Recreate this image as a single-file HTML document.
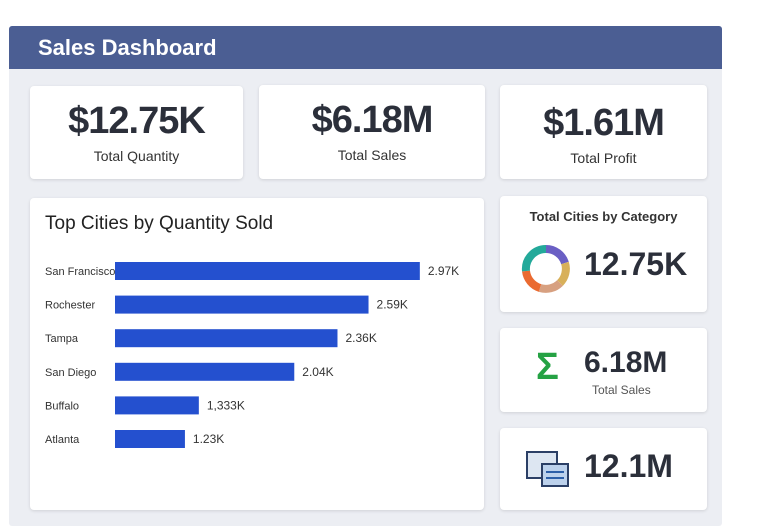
<!DOCTYPE html>
<html><head><meta charset="utf-8">
<style>
*{box-sizing:border-box;margin:0;padding:0}
body{width:757px;height:530px;background:#fff;font-family:"Liberation Sans",sans-serif;position:relative;overflow:hidden;color:#262b36}
.abs{position:absolute}
.card{position:absolute;background:#fff;border-radius:4px;box-shadow:0 1px 3px rgba(0,0,0,0.12)}
.big{position:absolute;left:0;right:0;text-align:center;font-weight:bold;color:#2b2f3a;letter-spacing:-1px}
.sub{position:absolute;left:0;right:0;text-align:center;font-size:14px;color:#333}
</style></head><body>
<div class="abs" style="left:9px;top:26px;width:713px;height:500px;background:#eceef3;border-radius:3px"></div>
<div class="abs" style="left:9px;top:26px;width:713px;height:43px;background:#4b5e93;border-radius:3px 3px 0 0"></div>
<div class="abs" style="left:38px;top:35px;font-size:22px;font-weight:bold;color:#fff">Sales Dashboard</div>

<div class="card" style="left:30px;top:86px;width:213px;height:93px">
 <div class="big" style="top:14px;font-size:38px">$12.75K</div><div class="sub" style="top:62px">Total Quantity</div></div>
<div class="card" style="left:259px;top:85px;width:226px;height:94px">
 <div class="big" style="top:14px;font-size:38px">$6.18M</div><div class="sub" style="top:62px">Total Sales</div></div>
<div class="card" style="left:500px;top:85px;width:207px;height:94px">
 <div class="big" style="top:17px;font-size:38px">$1.61M</div><div class="sub" style="top:65px">Total Profit</div></div>

<div class="card" style="left:30px;top:198px;width:454px;height:312px"></div>
<div class="abs" style="left:45px;top:213px;font-size:19px;color:#222">Top Cities by Quantity Sold</div>
<svg id="chart" class="abs" style="left:0;top:0" width="757" height="530"></svg>

<div class="card" style="left:500px;top:196px;width:207px;height:116px">
 <div class="abs" style="left:0;right:0;top:13px;text-align:center;font-size:13px;font-weight:bold;color:#333">Total Cities by Category</div>
 <svg class="abs" style="left:20px;top:47px" width="52" height="52" viewBox="0 0 52 52">
  <g fill="none" stroke-width="8">
   <path d="M26 6 A20 20 0 0 1 45 20" stroke="#6a5fc4"/>
   <path d="M45 20 A20 20 0 0 1 40 40" stroke="#d8b05a"/>
   <path d="M40 40 A20 20 0 0 1 20 45" stroke="#d7a080"/>
   <path d="M20 45 A20 20 0 0 1 6 28" stroke="#ea6a30"/>
   <path d="M6 28 A20 20 0 0 1 26 6" stroke="#23a99a"/>
  </g></svg>
 <div class="abs" style="left:84px;top:50px;font-size:32px;font-weight:bold;color:#2b2f3a">12.75K</div>
</div>
<div class="card" style="left:500px;top:328px;width:207px;height:84px">
 <div class="abs" style="left:36px;top:18px;font-size:38px;font-weight:bold;color:#25a244">Σ</div>
 <div class="abs" style="left:84px;top:18px;font-size:30px;font-weight:bold;color:#2b2f3a">6.18M</div>
 <div class="abs" style="left:92px;top:55px;font-size:12px;color:#555">Total Sales</div>
</div>
<div class="card" style="left:500px;top:428px;width:207px;height:82px">
 <svg class="abs" style="left:26px;top:22px" width="46" height="40">
  <rect x="1" y="2" width="30" height="26" fill="#dde6f2" stroke="#2b3f66" stroke-width="2"/>
  <rect x="16" y="14" width="26" height="22" fill="#bcd1ec" stroke="#2b3f66" stroke-width="2"/>
  <line x1="20" y1="22" x2="38" y2="22" stroke="#2b5ea8" stroke-width="2"/><line x1="20" y1="28" x2="38" y2="28" stroke="#2b5ea8" stroke-width="2"/></svg>
 <div class="abs" style="left:84px;top:20px;font-size:32px;font-weight:bold;color:#2b2f3a">12.1M</div>
</div>

<script>
const cities=["San Francisco","Rochester","Tampa","San Diego","Buffalo","Atlanta"];
const values=[2.97,2.59,2.36,2.04,1.333,1.23];
const valueLabels=["2.97K","2.59K","2.36K","2.04K","1,333K","1.23K"];
const svg=document.getElementById('chart');
const NS='http://www.w3.org/2000/svg';
const x0=115, d0=0.712, k=135;
function xs(v){return x0+(v-d0)*k;}
function yc(i){return 271+i*33.6;}
cities.forEach((c,i)=>{
 const y=yc(i);
 const t=document.createElementNS(NS,'text');
 
 
 t.setAttribute('x',45);t.setAttribute('y',y+4);t.setAttribute('font-size','11');t.setAttribute('fill','#333');
 t.textContent=c;svg.appendChild(t);
 const r=document.createElementNS(NS,'rect');
 
 
 r.setAttribute('x',x0);r.setAttribute('y',y-9);r.setAttribute('width',xs(values[i])-x0);r.setAttribute('height',18);r.setAttribute('fill','#2450cf');
 svg.appendChild(r);
 const v=document.createElementNS(NS,'text');
 
 
 v.setAttribute('x',xs(values[i])+8);v.setAttribute('y',y+4);v.setAttribute('font-size','12');v.setAttribute('fill','#333');
 v.textContent=valueLabels[i];svg.appendChild(v);
});
</script>
</body></html>
